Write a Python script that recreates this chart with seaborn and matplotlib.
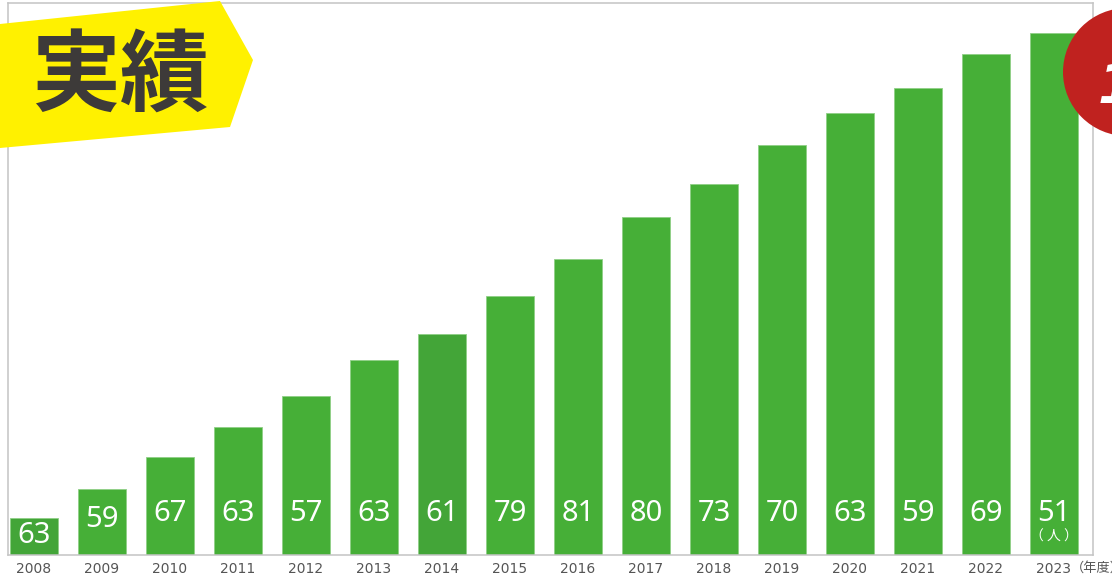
import matplotlib
matplotlib.use('Agg')
import matplotlib.pyplot as plt
from matplotlib.patches import Polygon, Ellipse
import seaborn as sns
import pandas as pd

# data: yearly hires (labels) and running total (bar height)
years = ['2008', '2009', '2010', '2011', '2012', '2013', '2014', '2015',
         '2016', '2017', '2018', '2019', '2020', '2021', '2022', '2023']
annual = [63, 59, 67, 63, 57, 63, 61, 79, 81, 80, 73, 70, 63, 59, 69, 51]
totals = [75, 135, 200, 261, 324, 397, 451, 528, 604, 690, 757, 837, 901, 953, 1023, 1065]

GREEN = '#46af37'
DARK_GREEN = '#43a538'
bar_colors = [DARK_GREEN if y in ('2008', '2014') else GREEN for y in years]

df = pd.DataFrame({'year': years, 'total': totals, 'annual': annual})

sns.set_style('white')
plt.rcParams['font.family'] = ['DejaVu Sans', 'Noto Sans CJK JP']
JP = ['Noto Sans CJK JP', 'DejaVu Sans']

W, H = 1112, 577
fig = plt.figure(figsize=(W / 100, H / 100), dpi=100)
ax = fig.add_axes([8 / W, (H - 555) / H, (1093 - 8) / W, 552 / H])

sns.barplot(data=df, x='year', y='total', hue='year', palette=bar_colors,
            legend=False, width=0.7, saturation=1, edgecolor='#8fcf86',
            linewidth=0.6, ax=ax)

ax.set_xlim(-0.382, 15.574)
ax.set_ylim(0, 1126.5)
ax.set_xlabel('')
ax.set_ylabel('')
ax.set_yticks([])
ax.tick_params(axis='x', length=0, pad=5, labelsize=10, labelcolor='#555555')
for s in ax.spines.values():
    s.set_visible(True)
    s.set_color('#c4c4c4')
    s.set_linewidth(1.1)

# white value labels near the bottom of each bar
for i, (n, t) in enumerate(zip(annual, totals)):
    ax.text(i, min(85, 0.53 * t), str(n), ha='center', va='center',
            color='white', fontsize=21, family=['Noto Sans', 'DejaVu Sans'])
ax.text(len(years) - 1, 38, '（ 人 ）', ha='center', va='center', color='white',
        fontsize=10, family=JP)

fig.text(1071 / W, 1 - 568 / H, '（年度）', ha='left', va='center',
         fontsize=9.5, color='#555555', family=JP)

# yellow tag with title
pts = [(0, 24), (220, 1), (253, 60), (230, 127), (0, 148)]
fig.add_artist(Polygon([(x / W, 1 - y / H) for x, y in pts], closed=True,
                       transform=fig.transFigure, facecolor='#fff100',
                       edgecolor='none', zorder=5))
fig.text(120 / W, 1 - 79 / H, '実績', ha='center', va='center', fontsize=64,
         fontweight='bold', color='#3d3a39', family=JP, zorder=6)

# red badge cut off on the right
fig.add_artist(Ellipse((1127 / W, 1 - 72 / H), 128 / W, 128 / H,
                       transform=fig.transFigure, facecolor='#c0221f',
                       edgecolor='none', zorder=5))
fig.text(1098 / W, 1 - 88 / H, '1', ha='left', va='center', fontsize=40,
         fontweight='bold', style='italic', color='white', zorder=6)

fig.savefig('out.png', dpi=100)
